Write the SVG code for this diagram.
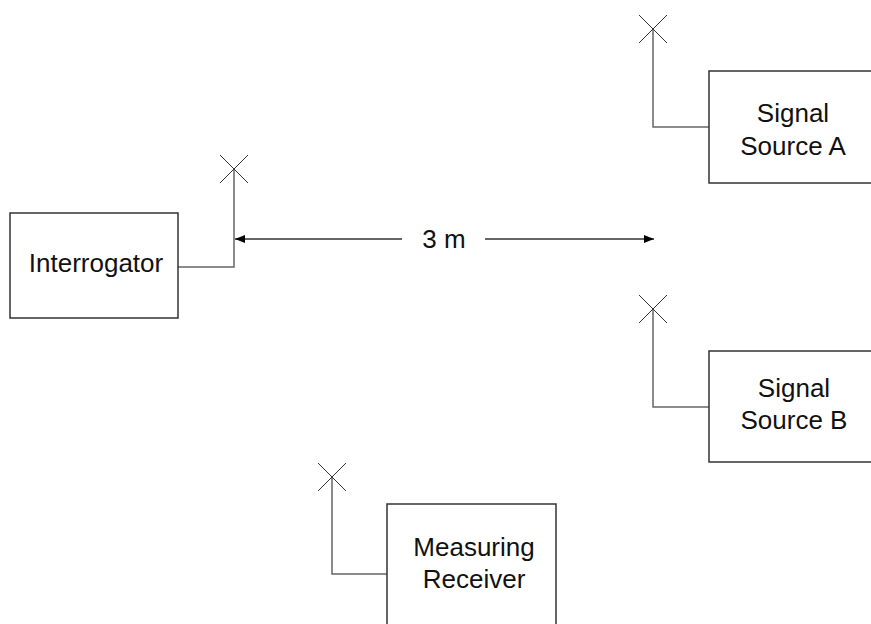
<svg xmlns="http://www.w3.org/2000/svg" width="871" height="624" viewBox="0 0 871 624">
<style>
.box{fill:#fff;stroke:#333;stroke-width:1.5}
.wire{fill:none;stroke:#666;stroke-width:1.5}
.ant{fill:none;stroke:#333;stroke-width:1}
.dim{fill:none;stroke:#333;stroke-width:1.3}
text{font-family:"Liberation Sans",Arial,sans-serif;font-size:26px;fill:#111;text-anchor:middle}
</style>
<defs>
<marker id="ah" viewBox="0 0 10 8" refX="10" refY="4" markerWidth="10" markerHeight="8" markerUnits="userSpaceOnUse" orient="auto-start-reverse">
<path d="M0,0 L10,4 L0,8 Z" fill="#000"/>
</marker>
</defs>
<rect width="871" height="624" fill="#fff"/>
<g id="connectors">
<path class="wire" d="M178,267 H234 V169"/>
<path class="ant" d="M220,155 L248,183 M248,155 L220,183"/>
<path class="wire" d="M709,127 H653 V29"/>
<path class="ant" d="M639,15 L667,43 M667,15 L639,43"/>
<path class="wire" d="M709,407 H653 V309"/>
<path class="ant" d="M639,295 L667,323 M667,295 L639,323"/>
<path class="wire" d="M387,574 H332 V477"/>
<path class="ant" d="M318,463 L346,491 M346,463 L318,491"/>
<line class="dim" x1="402" y1="239" x2="235" y2="239" marker-end="url(#ah)"/>
<line class="dim" x1="485" y1="239" x2="654" y2="239" marker-end="url(#ah)"/>
<text x="444" y="248">3 m</text>
</g>
<g id="interrogator">
<rect class="box" x="10" y="213" width="168" height="105"/>
<text x="96" y="272">Interrogator</text>
</g>
<g id="signal-source-a">
<rect class="box" x="709" y="71" width="170" height="112"/>
<text x="793" y="122">Signal</text>
<text x="793" y="155">Source A</text>
</g>
<g id="signal-source-b">
<rect class="box" x="709" y="351" width="170" height="111"/>
<text x="794" y="397">Signal</text>
<text x="794" y="429">Source B</text>
</g>
<g id="measuring-receiver">
<rect class="box" x="387" y="504" width="169" height="130"/>
<text x="474" y="556">Measuring</text>
<text x="474" y="588">Receiver</text>
</g>
</svg>
